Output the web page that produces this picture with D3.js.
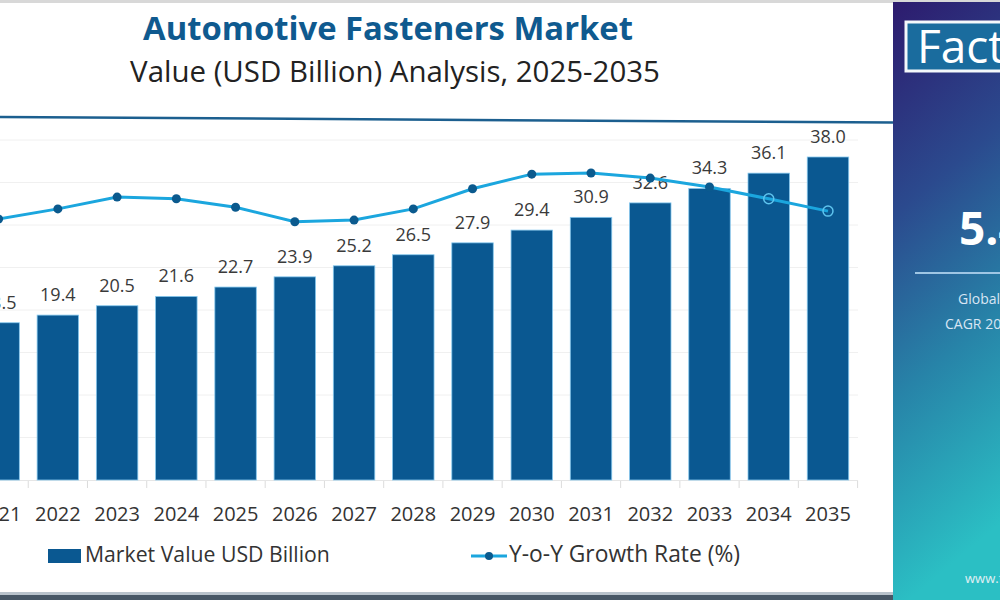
<!DOCTYPE html>
<html>
<head>
<meta charset="utf-8">
<script src="https://cdn.jsdelivr.net/npm/d3@7"></script>
<style>
  body { margin: 0; background: #fff; overflow: hidden; }
  svg { display: block; font-family: "Open Sans", sans-serif; }
</style>
</head>
<body>
<svg id="chart" width="1000" height="600"></svg>
<script>
// Chart data
let years = [2021, 2022, 2023, 2024, 2025, 2026, 2027, 2028, 2029, 2030, 2031, 2032, 2033, 2034, 2035];
let marketValues = [18.5, 19.4, 20.5, 21.6, 22.7, 23.9, 25.2, 26.5, 27.9, 29.4, 30.9, 32.6, 34.3, 36.1, 38.0];
let growthRates = [5.09, 5.27, 5.48, 5.45, 5.30, 5.04, 5.07, 5.27, 5.63, 5.89, 5.91, 5.82, 5.66, 5.45, 5.23];
let gridValues = [5, 10, 15, 20, 25, 30, 35, 40];
let hollowYears = [2034, 2035]; // forecast points drawn as open circles

let barColor = "#0a5891";
let lineColor = "#1ba6de";

let svg = d3.select("#chart");

// squeeze / stretch a text's font size so it covers a given width
let fitText = (sel, width) => {
    let len = sel.node().getComputedTextLength();
    let fs = parseFloat(sel.attr("font-size"));
    sel.attr("font-size", (fs * width / len).toFixed(2));
};

// thin grey strip on top, dark strip at the bottom
svg.append("rect").attr("x", 0).attr("y", 0).attr("width", 1000).attr("height", 3).attr("fill", "#d8d8d8");
svg.append("rect").attr("x", 0).attr("y", 592).attr("width", 893).attr("height", 3).attr("fill", "#b9c3cc");
svg.append("rect").attr("x", 0).attr("y", 595).attr("width", 893).attr("height", 5).attr("fill", "#475766");

// scales
let x = d3.scaleBand()
    .domain(years)
    .range([-31, 857.6])
    .paddingInner(0.3)
    .paddingOuter(0.15);

let y = d3.scaleLinear().domain([0, 40]).range([480, 140]);
let yGrowth = d3.scaleLinear().domain([4, 6.5]).range([280, 140]);

// gridlines
svg.append("g")
    .selectAll("line")
    .data(gridValues)
    .enter()
    .append("line")
    .attr("x1", 0)
    .attr("x2", 858)
    .attr("y1", d => y(d))
    .attr("y2", d => y(d))
    .attr("stroke", "#f0f0f0")
    .attr("stroke-width", 1);

// header separator line (slightly tilted in the source)
svg.append("line")
    .attr("x1", 0).attr("y1", 117)
    .attr("x2", 893).attr("y2", 122.5)
    .attr("stroke", "#1c5f8f")
    .attr("stroke-width", 2.5);

// x axis: baseline + tick marks between bands
let xAxis = d3.axisBottom(x).tickSize(0).tickPadding(27);
let axisG = svg.append("g")
    .attr("transform", "translate(0,480)")
    .call(xAxis);
axisG.select(".domain").attr("stroke", "#e6e6e6");
axisG.selectAll("text")
    .attr("font-size", 20)
    .attr("font-family", "'Open Sans', sans-serif")
    .attr("fill", "#333");

svg.append("g")
    .selectAll("line")
    .data(years)
    .enter()
    .append("line")
    .attr("x1", d => x(d) + x.bandwidth() + x.step() * 0.15)
    .attr("x2", d => x(d) + x.bandwidth() + x.step() * 0.15)
    .attr("y1", 481)
    .attr("y2", 488)
    .attr("stroke", "#dcdcdc");

// bars
svg.append("g")
    .selectAll("rect")
    .data(years)
    .enter()
    .append("rect")
    .attr("x", d => x(d))
    .attr("y", (d, i) => y(marketValues[i]))
    .attr("width", x.bandwidth())
    .attr("height", (d, i) => y(0) - y(marketValues[i]))
    .attr("fill", barColor)
    .attr("stroke", "#86c8ee")
    .attr("stroke-width", 0.8);

// value labels
svg.append("g")
    .selectAll("text")
    .data(years)
    .enter()
    .append("text")
    .attr("x", d => x(d) + x.bandwidth() / 2)
    .attr("y", (d, i) => y(marketValues[i]) - 14)
    .attr("text-anchor", "middle")
    .attr("font-size", 18)
    .attr("fill", "#3a3a3a")
    .text((d, i) => marketValues[i].toFixed(1));

// growth rate line
let line = d3.line()
    .x((d, i) => x(years[i]) + x.bandwidth() / 2)
    .y(d => yGrowth(d));

svg.append("path")
    .datum(growthRates)
    .attr("d", line)
    .attr("fill", "none")
    .attr("stroke", lineColor)
    .attr("stroke-width", 3);

svg.append("g")
    .selectAll("circle")
    .data(years)
    .enter()
    .append("circle")
    .attr("cx", d => x(d) + x.bandwidth() / 2)
    .attr("cy", (d, i) => yGrowth(growthRates[i]))
    .attr("r", d => hollowYears.includes(d) ? 5 : 4.5)
    .attr("fill", d => hollowYears.includes(d) ? "none" : "#0b5a8e")
    .attr("stroke", d => hollowYears.includes(d) ? "#5fc4ee" : "none")
    .attr("stroke-width", 1.5);

// titles
let title = svg.append("text")
    .attr("x", 388).attr("y", 40)
    .attr("text-anchor", "middle")
    .attr("font-size", 30)
    .attr("font-weight", 700)
    .attr("fill", "#0f5a8f")
    .text("Automotive Fasteners Market");
fitText(title, 490);

let subtitle = svg.append("text")
    .attr("x", 395).attr("y", 82)
    .attr("text-anchor", "middle")
    .attr("font-size", 25)
    .attr("fill", "#222")
    .text("Value (USD Billion) Analysis, 2025-2035");
fitText(subtitle, 530);

// legend
svg.append("rect")
    .attr("x", 48).attr("y", 549)
    .attr("width", 33).attr("height", 14)
    .attr("fill", barColor);
let leg1 = svg.append("text")
    .attr("x", 85).attr("y", 562)
    .attr("font-size", 19)
    .attr("fill", "#333")
    .text("Market Value USD Billion");
fitText(leg1, 245);

svg.append("line")
    .attr("x1", 471).attr("x2", 507)
    .attr("y1", 556).attr("y2", 556)
    .attr("stroke", lineColor)
    .attr("stroke-width", 3);
svg.append("circle")
    .attr("cx", 489).attr("cy", 556).attr("r", 4)
    .attr("fill", "#0b5a8e");
let leg2 = svg.append("text")
    .attr("x", 509).attr("y", 562)
    .attr("font-size", 19)
    .attr("fill", "#333")
    .text("Y-o-Y Growth Rate (%)");
fitText(leg2, 231);

// right side info panel
let defs = svg.append("defs");
let grad = defs.append("linearGradient")
    .attr("id", "panelGrad")
    .attr("x1", 0).attr("y1", 0).attr("x2", 0.15).attr("y2", 1);
grad.append("stop").attr("offset", "0%").attr("stop-color", "#2d1b6e");
grad.append("stop").attr("offset", "35%").attr("stop-color", "#2b4a8e");
grad.append("stop").attr("offset", "65%").attr("stop-color", "#2783a8");
grad.append("stop").attr("offset", "100%").attr("stop-color", "#2bbfc4");

svg.append("rect")
    .attr("x", 893).attr("y", 2)
    .attr("width", 107).attr("height", 598)
    .attr("fill", "url(#panelGrad)");

svg.append("rect")
    .attr("x", 906).attr("y", 22)
    .attr("width", 110).attr("height", 49)
    .attr("fill", "#1a6c9e")
    .attr("stroke", "#f4f8fb")
    .attr("stroke-width", 3);
svg.append("text")
    .attr("x", 917).attr("y", 63)
    .attr("font-size", 46)
    .attr("fill", "#fff")
    .text("Fact.MR");

svg.append("text")
    .attr("x", 959).attr("y", 245)
    .attr("font-size", 46)
    .attr("font-weight", 700)
    .attr("fill", "#fff")
    .text("5.4%");

svg.append("line")
    .attr("x1", 915).attr("x2", 1000)
    .attr("y1", 273).attr("y2", 273)
    .attr("stroke", "#9fc6e4")
    .attr("stroke-width", 2);

svg.append("text")
    .attr("x", 958).attr("y", 304)
    .attr("font-size", 14)
    .attr("fill", "#d8e6f4")
    .text("Global Automotive");
svg.append("text")
    .attr("x", 945).attr("y", 329)
    .attr("font-size", 14)
    .attr("fill", "#d8e6f4")
    .text("CAGR 2025-2035");
svg.append("text")
    .attr("x", 965).attr("y", 583)
    .attr("font-size", 13)
    .attr("fill", "#e0f0f4")
    .text("www.factmr.com");
</script>
</body>
</html>
